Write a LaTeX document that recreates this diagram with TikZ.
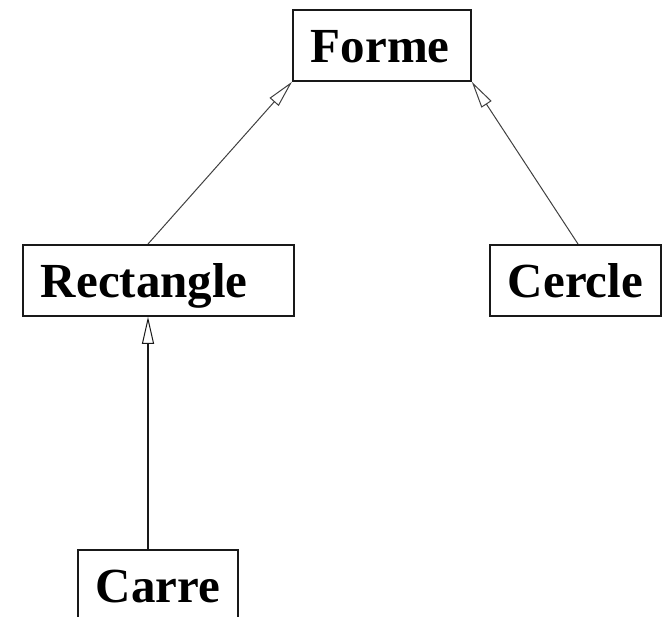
\documentclass[tikz,border=0pt]{standalone}
\usepackage{fontspec}
\setmainfont{Liberation Serif}
\usetikzlibrary{arrows.meta}
\begin{document}
\begin{tikzpicture}[x=1pt,y=-1pt,
  cls/.style={draw=black!90,line width=1.8pt,anchor=north west,font=\fontsize{49}{50}\selectfont\bfseries,
    align=left,inner xsep=18pt,inner ysep=12pt,text height=41pt,text depth=6pt},
  inh/.style={draw=black!75,line width=1pt,-{Triangle[open,length=27pt,width=12pt,line width=1pt]}}]
\useasboundingbox (0,0) rectangle (667,617);
\node[cls,text width=142pt] (forme) at (292,9) {Forme};
\node[cls,text width=235pt] (rect) at (22,244) {Rectangle};
\node[cls,text width=135pt] (cercle) at (489,244) {Cercle};
\node[cls,text width=124pt] (carre) at (77,549) {Carre};
\draw[inh] ([xshift=126pt]rect.north west) -- (forme.south west);
\draw[inh] ([xshift=89pt]cercle.north west) -- (forme.south east);
\draw[inh,draw=black!90,line width=1.6pt] ([xshift=71pt]carre.north west) -- ([xshift=126pt]rect.south west);
\end{tikzpicture}
\end{document}
